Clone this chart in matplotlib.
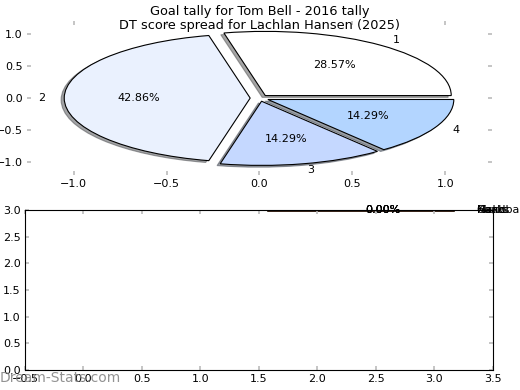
import matplotlib
matplotlib.use('Agg')
import matplotlib.pyplot as plt

# goal tally (top pie)
goal_labels = ['1', '2', '3', '4']
goal_counts = [2, 3, 1, 1]
goal_colors = ['#ffffff', '#eaf1fe', '#c5d8ff', '#b3d5ff']

# DT score spread (bottom, all empty)
dt_labels = ['Kicks', 'Marks', 'Goals', 'Handball']
dt_counts = [0, 0, 0, 0]

fig = plt.figure(figsize=(5.2, 3.9), dpi=100)
ax1 = fig.add_axes([0.052, 0.551, 0.894, 0.395])
ax2 = fig.add_axes([0.048, 0.051, 0.9, 0.411])

ax1.pie(goal_counts, labels=goal_labels, colors=goal_colors, autopct='%.2f%%',
        explode=[0.05] * len(goal_counts),
        shadow={'ox': -0.012, 'oy': -0.02}, frame=True,
        wedgeprops={'edgecolor': 'black', 'linewidth': 0.8},
        textprops={'fontsize': 8})
ax1.set_aspect('auto')
ax1.set_xlim(-1.25, 1.25)
ax1.set_ylim(-1.2, 1.2)
ax1.set_xticks([-1.0, -0.5, 0.0, 0.5, 1.0])
ax1.set_yticks([-1.0, -0.5, 0.0, 0.5, 1.0])
for s in ax1.spines.values():
    s.set_visible(False)
ax1.set_title('Goal tally for Tom Bell - 2016 tally\nDT score spread for Lachlan Hansen (2025)',
              fontsize=9.3, pad=-6, linespacing=1.15)

ax2.pie(dt_counts, labels=dt_labels, autopct='%.2f%%', normalize=False,
        center=(1.5, 3.0), radius=1.6, explode=[0.1] * len(dt_counts),
        shadow=True, frame=True, textprops={'fontsize': 8})
ax2.set_aspect('auto')
ax2.set_xlim(-0.5, 3.5)
ax2.set_ylim(0, 3.0)
ax2.set_xticks([-0.5, 0.0, 0.5, 1.0, 1.5, 2.0, 2.5, 3.0, 3.5])
ax2.set_yticks([0.0, 0.5, 1.0, 1.5, 2.0, 2.5, 3.0])

for ax in (ax1, ax2):
    ax.tick_params(direction='in', top=True, right=True, length=3, width=1.2,
                   color='#bbbbbb', labelsize=8, pad=3)

fig.text(0.0, 0.02, 'Dream-Stats.com', fontsize=10, color='gray', alpha=0.85)

fig.savefig('out.png', dpi=100)
